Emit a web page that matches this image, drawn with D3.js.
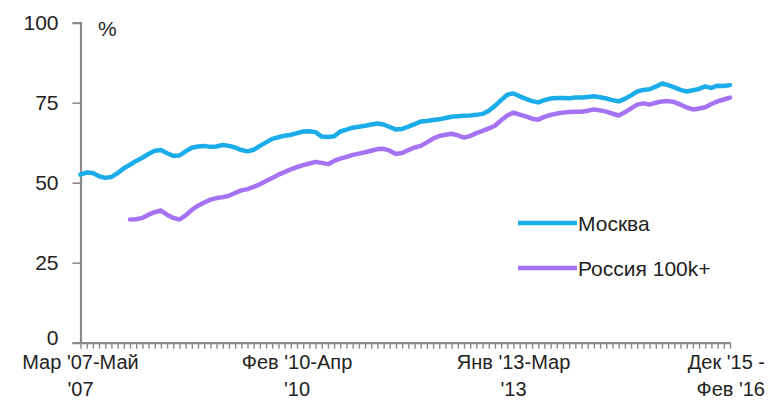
<!DOCTYPE html>
<html>
<head>
<meta charset="utf-8">
<script src="https://cdn.jsdelivr.net/npm/d3@7"></script>
<style>
  body { margin: 0; background: #fff; }
  text { font-family: "Liberation Sans", Arial, sans-serif; fill: #222; }
</style>
</head>
<body>
<div id="chart"></div>
<script>
// Share of internet users, % (rolling 3-month periods, Mar '07 - Feb '16)
const moscow = [
  52.5, 53.2, 53.0, 52.0, 51.5, 51.8, 53.0, 54.5, 55.6, 56.8,
  57.8, 59.0, 60.0, 60.2, 59.2, 58.4, 58.5, 59.8, 60.9, 61.3,
  61.5, 61.2, 61.3, 61.8, 61.5, 61.0, 60.2, 59.8, 60.3, 61.5,
  62.6, 63.7, 64.2, 64.7, 65.0, 65.5, 66.0, 66.1, 65.8, 64.4,
  64.3, 64.5, 66.0, 66.6, 67.2, 67.5, 67.8, 68.2, 68.5, 68.2,
  67.4, 66.6, 66.8, 67.5, 68.3, 69.1, 69.3, 69.6, 69.8, 70.2,
  70.6, 70.8, 70.9, 71.0, 71.2, 71.5, 72.5, 74.0, 75.8, 77.5,
  77.9, 77.0, 76.2, 75.5, 75.1, 75.8, 76.3, 76.5, 76.5, 76.4,
  76.6, 76.6, 76.8, 77.0, 76.7, 76.3, 75.8, 75.4, 76.2, 77.3,
  78.5, 79.0, 79.2, 80.0, 81.0, 80.5, 79.8, 79.0, 78.5, 78.9,
  79.3, 80.1, 79.6, 80.3, 80.2, 80.5
];
const russia = [
  null, null, null, null, null, null, null, null, 38.5, 38.6,
  39.0, 40.0, 40.8, 41.3, 40.0, 39.0, 38.5, 39.8, 41.5, 42.8,
  43.8, 44.7, 45.2, 45.5, 45.9, 46.8, 47.6, 48.0, 48.7, 49.5,
  50.5, 51.5, 52.5, 53.3, 54.2, 54.9, 55.5, 56.0, 56.5, 56.2,
  55.8, 56.8, 57.5, 58.1, 58.7, 59.1, 59.5, 60.0, 60.5, 60.6,
  60.0, 59.0, 59.3, 60.2, 61.0, 61.5, 62.6, 63.8, 64.6, 65.0,
  65.3, 64.8, 64.1, 64.6, 65.5, 66.2, 67.0, 67.8, 69.5, 71.0,
  71.9, 71.3, 70.7, 70.0, 69.7, 70.6, 71.2, 71.6, 71.9, 72.1,
  72.2, 72.2, 72.5, 72.9, 72.6, 72.2, 71.6, 71.0, 72.0, 73.2,
  74.4, 74.8, 74.4, 75.0, 75.4, 75.5, 75.2, 74.4, 73.5, 72.9,
  73.2, 73.6, 74.6, 75.4, 76.0, 76.6
];
const seriesNames = ["Москва", "Россия 100k+"];
const seriesColors = ["#1badea", "#a472f3"];

// x tick labels (index of period -> two text lines)
const labelIndex = [0, 35, 70, 105];
const labelLines = [
  ["Мар '07-Май", "'07"],
  ["Фев '10-Апр", "'10"],
  ["Янв '13-Мар", "'13"],
  ["Дек '15 -", "Фев '16"]
];
const yTicks = [0, 25, 50, 75, 100];

const W = 775, H = 411;
const svg = d3.select("#chart").append("svg")
  .attr("width", W)
  .attr("height", H);

const xScale = d3.scalePoint()
  .domain(d3.range(moscow.length))
  .range([80.5, 730]);

const yScale = d3.scaleLinear()
  .domain([0, 100])
  .range([342.7, 22.7]);

// y axis
const yAxis = svg.append("g")
  .attr("transform", "translate(80.5,0)")
  .call(d3.axisLeft(yScale).tickValues(yTicks).tickSize(8).tickPadding(14));
yAxis.select(".domain").attr("stroke", "#8a8a8a").attr("stroke-width", 2.2);
yAxis.selectAll(".tick line").attr("stroke", "#8a8a8a").attr("stroke-width", 1.6);
yAxis.selectAll(".tick text")
  .style("font-size", "21px")
  .attr("fill", "#222");
// lift the "0" a touch so it clears the first period label
yAxis.selectAll(".tick text").filter(d => d === 0).attr("dy", "0.1em");

// x axis: one tick per period, labels only on selected ones
const xAxis = svg.append("g")
  .attr("transform", `translate(0,${yScale(0)})`)
  .call(d3.axisBottom(xScale).tickSize(6).tickSizeOuter(0).tickFormat(""));
xAxis.select(".domain").attr("stroke", "#8a8a8a").attr("stroke-width", 2.2);
xAxis.selectAll(".tick line").attr("stroke", "#8a8a8a").attr("stroke-width", 1.4);

labelIndex.forEach((idx, k) => {
  const last = k === labelIndex.length - 1;
  const t = svg.append("text")
    .attr("x", last ? 765 : xScale(idx))
    .attr("y", 368.5)
    .attr("text-anchor", last ? "end" : "middle")
    .style("font-size", "20px");
  labelLines[k].forEach((ln, j) => {
    t.append("tspan")
      .attr("x", last ? 765 : xScale(idx))
      .attr("dy", j === 0 ? 0 : 27)
      .text(ln);
  });
});

// unit label
svg.append("text")
  .attr("x", 98)
  .attr("y", 36)
  .style("font-size", "21px")
  .text("%");

// lines
const line = d3.line()
  .defined(d => d != null)
  .x((d, i) => xScale(i))
  .y(d => yScale(d));

[moscow, russia].forEach((s, k) => {
  svg.append("path")
    .datum(s)
    .attr("fill", "none")
    .attr("stroke", seriesColors[k])
    .attr("stroke-width", 4.5)
    .attr("stroke-linejoin", "round")
    .attr("stroke-linecap", "round")
    .attr("d", line);
});

// legend
const legendY = [223, 268];
seriesNames.forEach((name, k) => {
  svg.append("line")
    .attr("x1", 518).attr("x2", 577)
    .attr("y1", legendY[k]).attr("y2", legendY[k])
    .attr("stroke", seriesColors[k])
    .attr("stroke-width", 4.5);
  svg.append("text")
    .attr("x", 578)
    .attr("y", legendY[k] + 7.5)
    .style("font-size", "21px")
    .text(name);
});
</script>
</body>
</html>
